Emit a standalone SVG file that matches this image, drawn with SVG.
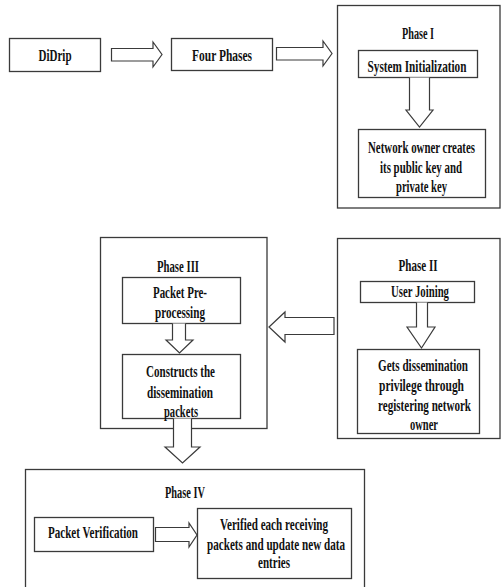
<svg xmlns="http://www.w3.org/2000/svg" width="501" height="587" viewBox="0 0 501 587">
<style>
.b{fill:#fff;stroke:#3a3a3a;stroke-width:1.3}
.a{fill:#fff;stroke:#3a3a3a;stroke-width:1.2;stroke-linejoin:miter}
text{font-family:"Liberation Serif","Times New Roman",serif;font-weight:bold;font-size:17px;fill:#111;text-anchor:middle}
</style>
<rect width="501" height="587" fill="#fff"/>
<g id="didrip"><rect class="b" x="9.5" y="38.5" width="91" height="33"/><text transform="matrix(.65,0,0,1,55,0)" y="61" textLength="50.8" lengthAdjust="spacingAndGlyphs">DiDrip</text></g>
<g id="four-phases"><rect class="b" x="171.5" y="38.5" width="101" height="32"/><text transform="matrix(.65,0,0,1,222,0)" y="61" textLength="92.3" lengthAdjust="spacingAndGlyphs">Four Phases</text></g>
<g id="phase1">
<rect class="b" x="337.5" y="5.5" width="162.5" height="202.5"/>
<text transform="matrix(.65,0,0,1,418,0)" y="39" textLength="49.2" lengthAdjust="spacingAndGlyphs">Phase I</text>
<rect class="b" x="358.5" y="50.5" width="119" height="27"/>
<text transform="matrix(.65,0,0,1,417,0)" y="72" textLength="152.3" lengthAdjust="spacingAndGlyphs">System Initialization</text>
<rect class="b" x="358.5" y="129.5" width="127" height="68"/>
<text transform="matrix(.65,0,0,1,421.5,0)" y="153" textLength="164.6" lengthAdjust="spacingAndGlyphs">Network owner creates</text>
<text transform="matrix(.65,0,0,1,421,0)" y="173" textLength="126.2" lengthAdjust="spacingAndGlyphs">its public key and</text>
<text transform="matrix(.65,0,0,1,421.5,0)" y="192" textLength="78.5" lengthAdjust="spacingAndGlyphs">private key</text>
</g>
<g id="phase2">
<rect class="b" x="337.5" y="238.5" width="162.5" height="200"/>
<text transform="matrix(.65,0,0,1,418,0)" y="271" textLength="60" lengthAdjust="spacingAndGlyphs">Phase II</text>
<rect class="b" x="360.5" y="281.5" width="114" height="21"/>
<text transform="matrix(.65,0,0,1,420,0)" y="297" textLength="89.2" lengthAdjust="spacingAndGlyphs">User Joining</text>
<rect class="b" x="357.5" y="349.5" width="122" height="84"/>
<text transform="matrix(.65,0,0,1,423,0)" y="371" textLength="138.5" lengthAdjust="spacingAndGlyphs">Gets dissemination</text>
<text transform="matrix(.65,0,0,1,421.5,0)" y="391" textLength="130.8" lengthAdjust="spacingAndGlyphs">privilege through</text>
<text transform="matrix(.65,0,0,1,424.5,0)" y="411" textLength="143.1" lengthAdjust="spacingAndGlyphs">registering network</text>
<text transform="matrix(.65,0,0,1,424,0)" y="430" textLength="43.1" lengthAdjust="spacingAndGlyphs">owner</text>
</g>
<g id="phase3">
<rect class="b" x="100.5" y="237.5" width="166.5" height="191"/>
<text transform="matrix(.65,0,0,1,178,0)" y="272" textLength="64.6" lengthAdjust="spacingAndGlyphs">Phase III</text>
<rect class="b" x="122.5" y="277.5" width="118" height="46"/>
<text transform="matrix(.65,0,0,1,180,0)" y="298" textLength="83.1" lengthAdjust="spacingAndGlyphs">Packet Pre-</text>
<text transform="matrix(.65,0,0,1,180,0)" y="318" textLength="76.9" lengthAdjust="spacingAndGlyphs">processing</text>
<rect class="b" x="122.5" y="354.5" width="118" height="64"/>
<text transform="matrix(.65,0,0,1,180.5,0)" y="377" textLength="106.2" lengthAdjust="spacingAndGlyphs">Constructs the</text>
<text transform="matrix(.65,0,0,1,180,0)" y="398" textLength="101.5" lengthAdjust="spacingAndGlyphs">dissemination</text>
<text transform="matrix(.65,0,0,1,181,0)" y="417" textLength="52.3" lengthAdjust="spacingAndGlyphs">packets</text>
</g>
<g id="phase4">
<rect class="b" x="25.5" y="469.5" width="339" height="140"/>
<text transform="matrix(.65,0,0,1,185,0)" y="498" textLength="61.5" lengthAdjust="spacingAndGlyphs">Phase IV</text>
<rect class="b" x="34.5" y="517.5" width="119" height="34"/>
<text transform="matrix(.65,0,0,1,93,0)" y="538" textLength="138.5" lengthAdjust="spacingAndGlyphs">Packet Verification</text>
<rect class="b" x="197.5" y="508.5" width="154" height="70"/>
<text transform="matrix(.65,0,0,1,274,0)" y="530" textLength="166.2" lengthAdjust="spacingAndGlyphs">Verified each receiving</text>
<text transform="matrix(.65,0,0,1,276,0)" y="550" textLength="212.3" lengthAdjust="spacingAndGlyphs">packets and update new data</text>
<text transform="matrix(.65,0,0,1,274,0)" y="568" textLength="49.2" lengthAdjust="spacingAndGlyphs">entries</text>
</g>
<g id="connectors">
<path class="a" d="M111.5,48.5 H153 V42 L162,54.5 L153,67 V61 H111.5 Z"/>
<path class="a" d="M276.5,47.5 H323 V41 L332,53.5 L323,66 V60 H276.5 Z"/>
<path class="a" d="M409.5,77.5 V110 H406 L419.5,127 L433,110 H429.5 V77.5"/>
<path class="a" d="M334,317.5 H285 V312 L269,327 L285,342 V334.5 H334 Z"/>
<path class="a" d="M416.5,302.5 V327 H407 L421.5,348 L435,327 H427.5 V302.5"/>
<path class="a" d="M172.5,323.5 V340 H166 L179.5,353 L193,340 H185.5 V323.5"/>
<path class="a" d="M173.5,418.5 V447 H165 L182.5,463 L200,447 H191.5 V418.5"/>
<path class="a" d="M155.5,527.5 H189 V523 L197,535 L189,547 V541.5 H155.5 Z"/>
</g>
</svg>
